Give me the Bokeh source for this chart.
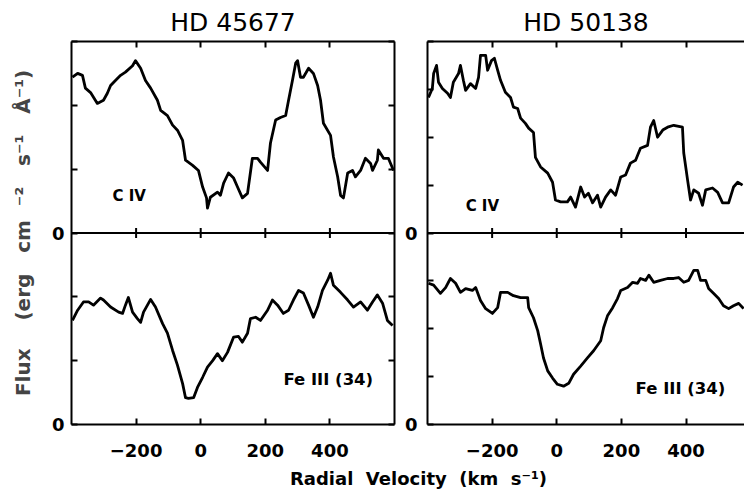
import numpy as np
from bokeh.plotting import figure
from bokeh.models import FixedTicker, Span, LinearAxis, Range1d
from bokeh.layouts import row, column
from bokeh.embed import file_html
from bokeh.resources import INLINE
from bokeh.core.properties import value

# ---------------- data ----------------
stars = ["HD 45677", "HD 50138"]
line_names = ["C IV", "Fe III (34)"]
vel_ticks = [-200, 0, 200, 400]

civ_45677_vel = [-397, -381, -366, -357, -341, -320, -301, -289, -279, -264, -248, -233, -211, -202,
                 -186, -171, -155, -134, -124, -103, -87, -72, -56, -47, -25, -7, 6, 18, 21, 30, 52,
                 61, 71, 86, 102, 114, 129, 145, 160, 176, 185, 207, 216, 232, 247, 263, 272, 284,
                 294, 300, 309, 318, 334, 349, 362, 371, 380, 402, 411, 424, 433, 442, 455, 470,
                 479, 495, 510, 526, 532, 547, 550, 566, 581, 597]
civ_45677_flux = [2.44, 2.5, 2.47, 2.27, 2.2, 2.03, 2.08, 2.19, 2.31, 2.39, 2.47, 2.52, 2.62, 2.70,
                  2.58, 2.39, 2.27, 2.08, 1.92, 1.84, 1.69, 1.61, 1.45, 1.14, 1.06, 0.98, 0.72, 0.55,
                  0.39, 0.56, 0.64, 0.59, 0.78, 0.94, 0.86, 0.72, 0.55, 0.62, 1.17, 1.17, 1.11, 0.98,
                  1.41, 1.77, 1.81, 1.84, 2.08, 2.39, 2.66, 2.70, 2.44, 2.44, 2.58, 2.5, 2.31, 2.08,
                  1.72, 1.53, 1.19, 0.88, 0.59, 0.55, 0.94, 0.98, 0.88, 0.98, 1.17, 1.09, 0.98, 1.14,
                  1.30, 1.17, 1.17, 0.98]

feiii_45677_vel = [-397, -381, -363, -347, -332, -310, -301, -279, -254, -242, -233, -224, -211, -196,
                   -186, -177, -155, -140, -118, -103, -87, -72, -56, -47, -38, -22, -10, 6, 21, 37,
                   52, 67, 83, 102, 117, 129, 145, 154, 170, 185, 207, 222, 238, 256, 272, 287, 303,
                   318, 334, 349, 362, 377, 393, 402, 411, 433, 455, 473, 495, 516, 532, 547, 563,
                   578, 594]
feiii_45677_flux = [1.63, 1.79, 1.92, 1.92, 1.87, 1.98, 1.95, 1.84, 1.76, 1.74, 1.87, 1.99, 1.76, 1.66,
                    1.60, 1.76, 1.96, 1.84, 1.58, 1.43, 1.16, 0.93, 0.64, 0.42, 0.41, 0.42, 0.58, 0.74,
                    0.90, 1.0, 1.11, 1.0, 1.13, 1.37, 1.38, 1.29, 1.43, 1.66, 1.68, 1.63, 1.79, 1.95,
                    1.87, 1.74, 1.79, 1.95, 2.10, 2.06, 1.87, 1.68, 1.84, 2.10, 2.26, 2.37, 2.18, 2.07,
                    1.95, 1.84, 1.92, 1.79, 1.92, 2.03, 1.90, 1.63, 1.55]

civ_50138_vel = [-397, -385, -381, -372, -366, -354, -338, -329, -320, -304, -298, -289, -282, -267,
                 -251, -242, -236, -220, -214, -202, -193, -183, -174, -159, -143, -134, -121, -112,
                 -97, -87, -72, -66, -50, -28, -13, -4, 12, 33, 43, 58, 74, 86, 98, 111, 126, 136,
                 151, 167, 182, 198, 213, 228, 244, 259, 281, 290, 300, 312, 328, 343, 362, 389, 393,
                 405, 414, 424, 439, 451, 461, 482, 498, 513, 532, 547, 560, 575]
civ_50138_flux = [2.83, 3.02, 3.33, 3.5, 3.15, 3.02, 2.92, 2.83, 3.15, 3.33, 3.5, 3.19, 2.98, 3.12,
                  3.02, 3.25, 3.71, 3.71, 3.40, 3.60, 3.65, 3.40, 3.19, 2.94, 2.83, 2.63, 2.6, 2.4,
                  2.29, 2.19, 2.10, 1.58, 1.38, 1.25, 1.06, 0.69, 0.65, 0.65, 0.75, 0.54, 0.96, 0.75,
                  0.83, 0.63, 0.79, 0.54, 0.75, 0.90, 0.79, 1.17, 1.21, 1.46, 1.52, 1.77, 1.83, 2.21,
                  2.35, 2.0, 2.15, 2.21, 2.25, 2.21, 1.67, 1.10, 0.69, 0.90, 0.83, 0.58, 0.90, 0.94,
                  0.85, 0.63, 0.63, 0.96, 1.06, 1.0]

feiii_50138_vel = [-397, -381, -360, -344, -329, -313, -298, -282, -261, -251, -236, -220, -199, -183,
                   -174, -152, -134, -112, -90, -87, -72, -59, -50, -41, -28, -13, 2, 21, 37, 52, 74,
                   95, 114, 136, 145, 157, 173, 188, 198, 219, 235, 250, 259, 275, 285, 300, 321, 343,
                   362, 377, 393, 408, 424, 436, 445, 461, 470, 485, 501, 516, 532, 547, 563, 578]
feiii_50138_flux = [2.95, 2.91, 2.74, 2.86, 3.05, 2.95, 2.76, 2.84, 2.80, 2.86, 2.59, 2.42, 2.32, 2.44,
                    2.76, 2.76, 2.69, 2.65, 2.65, 2.44, 2.23, 1.96, 1.68, 1.39, 1.12, 0.97, 0.84, 0.80,
                    0.86, 1.05, 1.22, 1.39, 1.54, 1.75, 2.02, 2.27, 2.44, 2.63, 2.80, 2.86, 2.97, 2.95,
                    3.05, 3.01, 3.12, 2.97, 3.01, 3.05, 3.05, 3.07, 2.97, 3.01, 3.22, 3.22, 3.01, 3.01,
                    2.84, 2.74, 2.63, 2.48, 2.42, 2.48, 2.53, 2.42]

# panel heights in flux units (lower panel 0..h, upper panel h..2h)
panel_units = [3, 4]

FONT = "DejaVu Sans"
LW = 2.8
H = 494


def style_axis(ax, major, minor=None, standoff=8):
    ax.ticker = FixedTicker(ticks=major, minor_ticks=minor or [])
    for kind in ("major", "minor"):
        setattr(ax, kind + "_tick_in", 6)
        setattr(ax, kind + "_tick_out", 0)
        setattr(ax, kind + "_tick_line_width", 2)
        setattr(ax, kind + "_tick_line_color", "black")
    ax.axis_line_width = 2
    ax.axis_line_color = "black"
    ax.major_label_text_font = FONT
    ax.major_label_text_font_style = "bold"
    ax.major_label_text_font_size = "18px"
    ax.major_label_text_color = "black"
    ax.major_label_standoff = standoff


def make_panel(title, x_end, h, width, border_left, border_right,
               upper_v, upper_f, lower_v, lower_f, right_axis, y_standoff):
    p = figure(width=width, height=H, x_range=Range1d(-400, x_end), y_range=Range1d(0, 2 * h),
               output_backend="svg", toolbar_location=None, title=title,
               min_border_left=border_left, min_border_right=border_right,
               min_border_top=32, min_border_bottom=70, outline_line_color=None)
    p.grid.visible = False
    p.title.align = "center"
    p.title.text_font = FONT
    p.title.text_font_style = "normal"
    p.title.text_font_size = "25px"
    p.title.text_color = "black"

    inner = [t for t in range(1, 2 * h + 1) if t != h]
    style_axis(p.xaxis[0], vel_ticks, standoff=19)
    style_axis(p.yaxis[0], [0, h], inner, standoff=y_standoff)
    p.yaxis[0].major_label_overrides = {h: "0"}

    top = LinearAxis()
    style_axis(top, [], vel_ticks)
    p.add_layout(top, "above")
    if right_axis:
        r = LinearAxis()
        style_axis(r, [], list(range(0, 2 * h + 1)))
        p.add_layout(r, "right")

    p.add_layout(Span(location=h, dimension="width", line_color="black", line_width=2))
    d = 5.0 * h / 192.0
    p.segment(x0=vel_ticks, x1=vel_ticks, y0=[h - d] * 4, y1=[h + d] * 4,
              line_color="black", line_width=2)

    p.line(upper_v, np.array(upper_f) + h, line_color="black", line_width=LW, line_join="round")
    p.line(lower_v, np.array(lower_f), line_color="black", line_width=LW, line_join="round")
    return p


p1 = make_panel(stars[0], 600, panel_units[0], 399, 71, 5,
                civ_45677_vel, civ_45677_flux, feiii_45677_vel, feiii_45677_flux, True, 7)
p2 = make_panel(stars[1], 581, panel_units[1], 345, 28, 0,
                civ_50138_vel, civ_50138_flux, feiii_50138_vel, feiii_50138_flux, False, 10)

p1.yaxis[0].axis_label = ("Flux \u00a0\u00a0\u00a0(erg \u00a0\u00a0cm \u00a0\u207b\u00b2 \u00a0\u00a0s\u207b\u00b9"
                          " \u00a0\u00a0\u00c5\u207b\u00b9)")
p1.yaxis[0].axis_label_text_font = FONT
p1.yaxis[0].axis_label_text_font_style = "bold"
p1.yaxis[0].axis_label_text_font_size = "20px"
p1.yaxis[0].axis_label_standoff = 14

lab = dict(text_font=value(FONT), text_font_style="bold",
           text_baseline="middle", text_align="left", text_color="black")
p1.text(x=[-273], y=[3.58], text=[line_names[0]], text_font_size="15px", **lab)
p1.text(x=[256], y=[0.7], text=[line_names[1]], text_font_size="16.5px", **lab)
p2.text(x=[-282], y=[4.56], text=[line_names[0]], text_font_size="15px", **lab)
p2.text(x=[244], y=[0.76], text=[line_names[1]], text_font_size="16.5px", **lab)

px = figure(width=744, height=40, x_range=Range1d(0, 744), y_range=Range1d(0, 40),
            output_backend="svg", toolbar_location=None, min_border=0, title=None,
            x_axis_type=None, y_axis_type=None, outline_line_color=None,
            background_fill_color=None, border_fill_color=None, margin=(-40, 0, 0, 0))
px.grid.visible = False
px.text(x=[418], y=[16], text=["Radial \u00a0Velocity \u00a0(km \u00a0s\u207b\u00b9)"],
        text_font=value(FONT), text_font_style="bold", text_font_size="18px",
        text_baseline="middle", text_align="center", text_color="black")

layout = column(row(p1, p2), px)
open("out.html", "w").write(file_html(layout, INLINE))
